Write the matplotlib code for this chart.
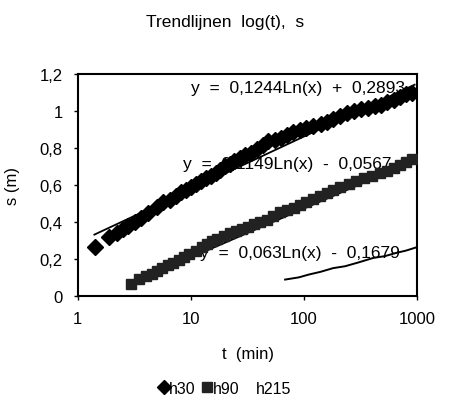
import numpy as np
import matplotlib
matplotlib.use("Agg")
import matplotlib.pyplot as plt
from matplotlib.lines import Line2D
from matplotlib.ticker import FixedLocator, FixedFormatter

plt.rcParams["font.family"] = ["Liberation Sans", "DejaVu Sans"]

# h30 readings (t in min, s in m)
t_h30 = [1.41, 1.9, 2.2, 2.5, 2.8, 3.2, 3.6, 4.2, 5.0, 5.7, 6.5, 7.4, 8.2, 9.0, 10, 11.1, 12.2,
         13.5, 15, 16.5, 18, 20, 22, 24, 27, 30, 34, 38, 43, 48, 55, 62, 70, 80, 92, 105, 121,
         140, 160, 180, 208, 240, 275, 320, 370, 420, 480, 540, 620, 700, 800, 900]
s_h30 = [0.265, 0.32, 0.34, 0.36, 0.38, 0.40, 0.42, 0.45, 0.48, 0.51, 0.52, 0.54, 0.56, 0.575,
         0.59, 0.605, 0.62, 0.635, 0.65, 0.665, 0.68, 0.70, 0.715, 0.73, 0.745, 0.76, 0.775,
         0.795, 0.815, 0.835, 0.845, 0.855, 0.87, 0.885, 0.895, 0.91, 0.92, 0.93, 0.94, 0.955,
         0.975, 0.99, 1.0, 1.01, 1.015, 1.025, 1.035, 1.047, 1.06, 1.075, 1.09, 1.1]

# h90 readings
t_h90 = [2.96, 3.5, 4.0, 4.5, 5.0, 5.6, 6.3, 7.0, 7.8, 8.7, 9.7, 11, 12.5, 14, 15.5, 17, 19.5,
         22, 25, 28, 32, 36, 41, 47, 53, 61, 70, 81, 92, 105, 120, 138, 158, 181, 210, 250,
         290, 340, 400, 470, 540, 620, 710, 800, 900]
s_h90 = [0.065, 0.09, 0.105, 0.12, 0.135, 0.148, 0.165, 0.18, 0.195, 0.21, 0.227, 0.245, 0.262,
         0.28, 0.295, 0.308, 0.325, 0.34, 0.35, 0.36, 0.375, 0.39, 0.40, 0.41, 0.43, 0.455,
         0.465, 0.475, 0.49, 0.51, 0.525, 0.54, 0.555, 0.575, 0.59, 0.605, 0.62, 0.635, 0.65,
         0.665, 0.675, 0.69, 0.71, 0.725, 0.74]

# h215 readings (drawn as a plain line, no markers)
t_h215 = [68, 90, 110, 140, 181, 230, 300, 409, 520, 650, 800, 980]
s_h215 = [0.088, 0.10, 0.115, 0.13, 0.15, 0.16, 0.18, 0.205, 0.215, 0.232, 0.245, 0.262]

# trendline coefficients shown on the chart: y = a*Ln(x) + b, drawn over the data range
fits = {
    "h30": (0.1244, 0.2893, 1.4, 950),
    "h90": (0.1149, -0.0567, 2.9, 950),
}
fit_labels = ["y  =  0,1244Ln(x)  +  0,2893",
              "y  =  0,1149Ln(x)  -  0,0567",
              "y  =  0,063Ln(x)  -  0,1679"]

fig = plt.figure(figsize=(4.5, 4.1), dpi=100)
ax = fig.add_axes([0.173, 0.276, 0.754, 0.541])

ax.plot(t_h30, s_h30, linestyle="none", marker="D", markersize=8, color="black", zorder=4)
ax.plot(t_h90, s_h90, linestyle="none", marker="s", markersize=7.5, color="#222222", zorder=4)
ax.plot(t_h215, s_h215, color="black", linewidth=1.4, zorder=3)

for name, (a, b, t0, t1) in fits.items():
    tt = np.logspace(np.log10(t0), np.log10(t1), 50)
    ax.plot(tt, a * np.log(tt) + b, color="black", linewidth=1.3, zorder=3)

# equation labels (markers sit on top of them as in the original)
ax.text(0.965, 0.941, fit_labels[0], transform=ax.transAxes, ha="right", va="center",
        fontsize=12.5, zorder=2)
ax.text(0.925, 0.595, fit_labels[1], transform=ax.transAxes, ha="right", va="center",
        fontsize=12.5, zorder=2)
ax.text(0.95, 0.194, fit_labels[2], transform=ax.transAxes, ha="right", va="center",
        fontsize=12.5, zorder=2)

ax.set_xscale("log")
ax.set_xlim(1, 1000)
ax.set_ylim(0, 1.2)
ax.xaxis.set_major_locator(FixedLocator([1, 10, 100, 1000]))
ax.xaxis.set_major_formatter(FixedFormatter(["1", "10", "100", "1000"]))
ax.xaxis.set_minor_locator(FixedLocator([]))
yt = [0, 0.2, 0.4, 0.6, 0.8, 1.0, 1.2]
ax.yaxis.set_major_locator(FixedLocator(yt))
ax.yaxis.set_major_formatter(FixedFormatter(["0", "0,2", "0,4", "0,6", "0,8", "1", "1,2"]))
ax.tick_params(axis="both", labelsize=12, length=3, width=1, pad=8)
for sp in ax.spines.values():
    sp.set_linewidth(1.5)

ax.set_xlabel("t  (min)", fontsize=12, labelpad=14)
ax.set_ylabel("s (m)", fontsize=12, labelpad=14)
fig.text(0.5, 0.945, "Trendlijnen  log(t),  s", ha="center", va="center", fontsize=12.5)

handles = [Line2D([], [], linestyle="none", marker="D", markersize=7, color="black"),
           Line2D([], [], linestyle="none", marker="s", markersize=7, color="#222222"),
           Line2D([], [], linestyle="none")]
fig.legend(handles, ["h30", "h90", "h215"], loc="center", bbox_to_anchor=(0.5, 0.05), ncol=3,
           frameon=False, fontsize=11.5, handlelength=0.6, handletextpad=0.05, columnspacing=0.4)

fig.savefig("out.png", dpi=100)
